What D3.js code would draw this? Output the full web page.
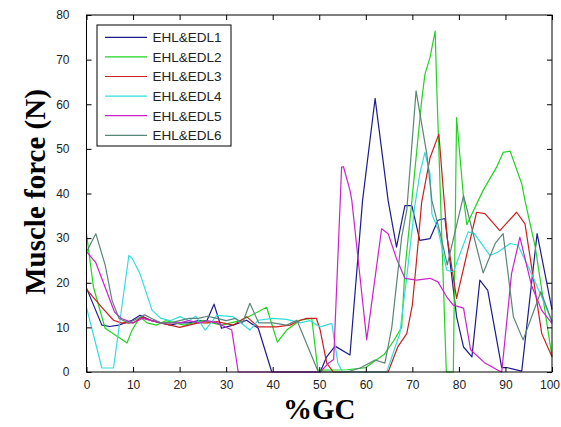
<!DOCTYPE html>
<html>
<head>
<meta charset="utf-8">
<script src="https://cdn.jsdelivr.net/npm/d3@7"></script>
<style>
  html, body { margin: 0; padding: 0; background: #fff; }
  svg { display: block; }
</style>
</head>
<body>
<svg id="chart" width="561" height="427"></svg>
<script>
// Series names and colours
const seriesNames = ["EHL&EDL1", "EHL&EDL2", "EHL&EDL3", "EHL&EDL4", "EHL&EDL5", "EHL&EDL6"];
const seriesColors = ["#1c1c8c", "#1fd41f", "#cc1f1f", "#33dddd", "#cc22cc", "#5b8578"];

// Axis ticks
const xTicks = [0, 10, 20, 30, 40, 50, 60, 70, 80, 90, 100];
const yTicks = [0, 10, 20, 30, 40, 50, 60, 70, 80];

// Gait-cycle positions (%GC) and muscle force (N) for each series
const gc1 = [0, 3.3, 5, 6.9, 9.8, 11.5, 14, 16, 18, 20, 22, 24, 25.9, 27.4, 29, 31.5, 34.4, 36.9, 39.8, 50.2, 51.6, 53.4, 56.6, 59.3, 62, 64.8, 66.6, 68.4, 69.9, 71.6, 73.8, 75.5, 77, 79.5, 81, 82.8, 84.5, 86.2, 89.2, 90.3, 93.5, 96.8, 100];
const force1 = [18.8, 10.5, 10.2, 10.5, 11.6, 12.7, 11.5, 11, 10.5, 11, 11, 11.5, 11.6, 15.2, 9.8, 10.5, 11.6, 9.8, 0, 0, 3.4, 5.8, 3.8, 38.4, 61.3, 38.4, 28, 37.3, 37.3, 29.5, 29.9, 34, 34.4, 12.4, 5.6, 3.4, 20.6, 18.3, 1, 1, 0.2, 31, 14];

const gc2 = [0, 1.5, 4, 8.7, 9.8, 11.5, 13, 15, 17, 19, 21, 23, 25, 27, 29, 31, 33, 35, 38.7, 41, 43, 45.9, 48.4, 49.7, 56, 60, 62, 64, 66, 67.7, 68.4, 69.9, 72, 72.7, 73.8, 74.9, 75.2, 77.3, 78.8, 79.5, 81, 81.7, 85.2, 88.1, 89.5, 91, 93.5, 94.2, 96.4, 100];
const force2 = [31, 19, 9.8, 6.5, 9.4, 12.3, 11, 10.5, 11.5, 11, 10.5, 11, 11.5, 11, 10.5, 11, 11.5, 12.5, 14.5, 6.7, 9.4, 11.6, 12, 0.4, 0.5, 1, 2.5, 4, 7, 10, 22.8, 38.4, 60.8, 66.7, 70.5, 76.4, 65.2, 0, 0, 57, 39, 33, 40.7, 45.9, 49.2, 49.5, 42.2, 38.4, 28, 3.4];

const gc3 = [0, 3.3, 5.8, 7.5, 10, 12, 14, 16, 18, 20, 22, 24, 26, 28, 31.5, 34.4, 36.9, 40.8, 43.7, 45.9, 47.3, 49.4, 50.2, 51.6, 53, 64.8, 66.9, 68.8, 70, 70.9, 72, 73.8, 75.7, 76.6, 77.5, 79.5, 83.8, 85.6, 88.8, 92.4, 94.2, 97.8, 100];
const force3 = [18.5, 14.5, 11.6, 11, 11, 12.3, 11.5, 11, 10.5, 10, 10.5, 11, 11, 11.3, 10.5, 12.4, 10.1, 10.1, 10.5, 11.6, 12, 12, 9.4, 2, 0, 0, 5.7, 8.6, 15, 25, 38, 48, 53.3, 41.4, 30, 16.5, 35.8, 35.5, 31.7, 35.8, 33.2, 8.6, 3.4];

const gc4 = [0, 3.3, 5.8, 9.1, 9.8, 11.5, 14.1, 16, 18, 20.1, 22, 23.5, 25.5, 28, 31.5, 35.1, 36.9, 40, 43, 45.9, 48, 50.2, 52.7, 54, 55, 64.5, 67.3, 68.8, 70.5, 71.6, 72.7, 73.8, 74.2, 75.5, 77.4, 78.8, 82, 83.3, 86.7, 88.4, 91, 92.7, 95.6, 97.8, 100];
const force4 = [14.5, 0.9, 0.9, 26.1, 25.5, 22, 13.8, 12, 11.5, 12.4, 11.5, 12.5, 9.4, 12.7, 12.4, 9.4, 11.6, 12, 11.8, 11, 11.5, 10.1, 10.9, 2, 0, 0, 8.6, 21.3, 37, 44.4, 49.2, 44.4, 35.4, 32, 22.8, 22.4, 31.4, 31, 26.1, 26.9, 28.8, 28.4, 22, 16.8, 11.2];

const gc5 = [0, 2, 4, 6, 7.5, 10, 12, 14, 16, 18, 20, 22, 24, 26, 28, 31.2, 32.6, 50.2, 52, 53.1, 54.8, 55.2, 56.6, 57, 60.2, 63.4, 64.8, 66.6, 68.4, 70.9, 73.8, 75.5, 77.4, 78.8, 81, 82.5, 85.6, 88.4, 89.2, 91.3, 93.1, 95.6, 97.8, 100];
const force5 = [27, 24.5, 19, 13.5, 12, 11, 12, 11.5, 11, 11, 11, 11.5, 11, 11.5, 11, 9.4, 0, 0, 2, 2.8, 45.9, 46, 40.7, 38.4, 7.2, 32.1, 31, 25.4, 21, 20.6, 21, 20.2, 16.8, 15, 14.3, 5, 2, 0.4, 0, 22, 30.2, 19.4, 13.8, 10.9];

const gc6 = [0, 2, 4, 5.5, 7, 9, 11, 12.5, 14, 16, 18, 20, 22, 24, 26, 28, 30, 32, 33.5, 35.1, 37, 40, 43, 45.2, 49.8, 56, 58.8, 62, 64.1, 65.6, 67.7, 68.8, 70.8, 73.1, 74.2, 76, 77.5, 81, 85.2, 87.8, 89.5, 91.7, 93.8, 97.6, 100];
const force6 = [26.9, 31, 24, 16, 12, 11, 12, 12.8, 12, 11, 11, 11.5, 12, 12, 12.5, 12, 11.5, 12, 11, 15.4, 11, 11, 10.5, 11.6, 0, 0, 0.9, 2.7, 2, 10.1, 30.2, 36.2, 63, 48.9, 38.4, 31, 24, 39.5, 22.2, 28.8, 31, 12.4, 7.2, 18, 11.3];

const seriesGC = [gc1, gc2, gc3, gc4, gc5, gc6];
const seriesForce = [force1, force2, force3, force4, force5, force6];

const svg = d3.select("#chart");
const plotLeft = 86.5, plotRight = 552, plotTop = 15, plotBottom = 372;

const x = d3.scaleLinear().domain([0, 100]).range([plotLeft, plotRight]);
const y = d3.scaleLinear().domain([0, 80]).range([plotBottom, plotTop]);

// Curves
const line = d3.line().x(d => x(d[0])).y(d => y(d[1]));
const plot = svg.append("g");
seriesNames.forEach((name, i) => {
  const pts = seriesGC[i].map((g, k) => [g, seriesForce[i][k]]);
  plot.append("path")
    .datum(pts)
    .attr("fill", "none")
    .attr("stroke", seriesColors[i])
    .attr("stroke-width", 1.2)
    .attr("stroke-linejoin", "round")
    .attr("d", line);
});

// Axes with inward ticks on all four sides
function styleAxis(g) {
  g.select(".domain").remove();
  g.selectAll(".tick line").attr("stroke", "#000");
  g.selectAll(".tick text")
    .attr("fill", "#222")
    .style("font-family", "'Liberation Sans', Arial, sans-serif")
    .style("font-size", "12px");
}
const xAxisBottom = svg.append("g").attr("transform", `translate(0,${plotBottom})`)
  .call(d3.axisBottom(x).tickValues(xTicks).tickSize(-5).tickPadding(8))
  .call(styleAxis);
// keep the last label inside the canvas
xAxisBottom.selectAll(".tick text").filter(d => d === 100).attr("dx", "-2.5");
svg.append("g").attr("transform", `translate(0,${plotTop})`)
  .call(d3.axisTop(x).tickValues(xTicks).tickSize(-5).tickFormat(""))
  .call(styleAxis);
svg.append("g").attr("transform", `translate(${plotLeft},0)`)
  .call(d3.axisLeft(y).tickValues(yTicks).tickSize(-5).tickPadding(17))
  .call(styleAxis);
svg.append("g").attr("transform", `translate(${plotRight},0)`)
  .call(d3.axisRight(y).tickValues(yTicks).tickSize(-5).tickFormat(""))
  .call(styleAxis);

// Frame
svg.append("rect")
  .attr("x", plotLeft).attr("y", plotTop)
  .attr("width", plotRight - plotLeft).attr("height", plotBottom - plotTop)
  .attr("fill", "none").attr("stroke", "#000").attr("stroke-width", 1);

// Axis titles
svg.append("text")
  .attr("x", (plotLeft + plotRight) / 2).attr("y", 419)
  .attr("text-anchor", "middle")
  .style("font-family", "'Liberation Serif', 'Times New Roman', serif")
  .style("font-weight", "bold").style("font-size", "29px")
  .text("%GC");
svg.append("text")
  .attr("transform", "translate(45,192) rotate(-90)")
  .attr("text-anchor", "middle")
  .style("font-family", "'Liberation Serif', 'Times New Roman', serif")
  .style("font-weight", "bold").style("font-size", "29px")
  .text("Muscle force (N)");

// Legend
const legend = svg.append("g");
legend.append("rect")
  .attr("x", 97).attr("y", 25).attr("width", 134).attr("height", 121)
  .attr("fill", "#fff").attr("stroke", "#000").attr("stroke-width", 1);
seriesNames.forEach((name, i) => {
  const ly = 37.3 + i * 19.6;
  legend.append("line")
    .attr("x1", 105).attr("x2", 147).attr("y1", ly).attr("y2", ly)
    .attr("stroke", seriesColors[i]).attr("stroke-width", 1.2);
  legend.append("text")
    .attr("x", 152.5).attr("y", ly).attr("dy", "0.36em")
    .attr("fill", "#222")
    .style("font-family", "'Liberation Sans', Arial, sans-serif")
    .style("font-size", "13.5px")
    .text(name);
});
</script>
</body>
</html>
